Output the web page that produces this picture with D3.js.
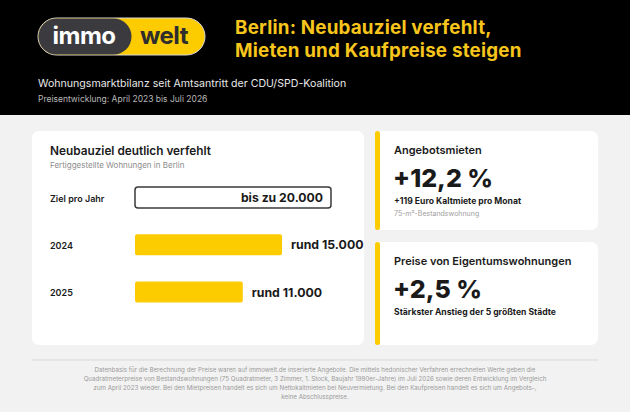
<!DOCTYPE html>
<html>
<head>
<meta charset="utf-8">
<script src="https://cdn.jsdelivr.net/npm/d3@7"></script>
<style>
  body { margin: 0; background: #f2f2f2; }
  svg { display: block; font-family: Inter, "Noto Sans", sans-serif; }
</style>
</head>
<body>
<div id="chart"></div>
<script>
// data
const titleLines = ["Berlin: Neubauziel verfehlt,", "Mieten und Kaufpreise steigen"];
const subTitle = "Wohnungsmarktbilanz seit Amtsantritt der CDU/SPD-Koalition";
const period = "Preisentwicklung: April 2023 bis Juli 2026";

const barLabels = ["Ziel pro Jahr", "2024", "2025"];
const barValues = [20000, 15000, 11000];
const barPrefix = ["bis zu ", "rund ", "rund "];

const cardTitles = ["Angebotsmieten", "Preise von Eigentumswohnungen"];
const cardValues = [12.2, 2.5];
const cardNotes = ["+119 Euro Kaltmiete pro Monat", "Stärkster Anstieg der 5 größten Städte"];
const cardSubNotes = ["75-m²-Bestandswohnung", ""];

const footLines = [
  "Datenbasis für die Berechnung der Preise waren auf immowelt.de inserierte Angebote. Die mittels hedonischer Verfahren errechneten Werte geben die",
  "Quadratmeterpreise von Bestandswohnungen (75 Quadratmeter, 3 Zimmer, 1. Stock, Baujahr 1990er-Jahre) im Juli 2026 sowie deren Entwicklung im Vergleich",
  "zum April 2023 wieder. Bei den Mietpreisen handelt es sich um Nettokaltmieten bei Neuvermietung. Bei den Kaufpreisen handelt es sich um Angebots-,",
  "keine Abschlusspreise."
];

const makeChart = () => {
  let w = 630;
  let h = 412;
  const yellow = "#fccb00";
  const dark = "#1a1a1a";

  const de = d3.formatLocale({decimal: ",", thousands: ".", grouping: [3], currency: ["", " €"]});
  const fmtInt = de.format(",.0f");
  const fmtPct = de.format("+.1f");

  const svg = d3.select('#chart')
    .append('svg')
    .attr('width', w)
    .attr('height', h)
    .style('background-color', '#f2f2f2');

  // header
  svg.append("rect").attr("x", 0).attr("y", 0).attr("width", w).attr("height", 115).attr("fill", "#000");

  // logo
  const logo = svg.append("g");
  logo.append("rect").attr("x", 38).attr("y", 18).attr("width", 167).attr("height", 37)
    .attr("rx", 18.5).attr("fill", yellow).attr("stroke", "#d8d8d8").attr("stroke-width", 1);
  logo.append("rect").attr("x", 38.5).attr("y", 18.5).attr("width", 93).attr("height", 36)
    .attr("rx", 18).attr("fill", "#3b3b3f");
  logo.append("text").attr("x", 84).attr("y", 44).attr("text-anchor", "middle")
    .style("font-size", "24px").style("font-weight", 700).attr("fill", "#fff")
    .style("letter-spacing", "-0.5px").text("immo");
  logo.append("text").attr("x", 164).attr("y", 44).attr("text-anchor", "middle")
    .style("font-size", "24px").style("font-weight", 700).attr("fill", "#2e2e2e")
    .style("letter-spacing", "-0.5px").text("welt");

  // title
  svg.selectAll(".title").data(titleLines).enter().append("text")
    .attr("class", "title")
    .attr("x", 235).attr("y", (d, i) => 34 + i * 23)
    .style("font-size", "18.8px").style("font-weight", 700)
    .style("letter-spacing", "0.2px").attr("fill", "#f7c51c")
    .text(d => d);

  svg.append("text").attr("x", 38).attr("y", 87)
    .style("font-size", "10.6px").attr("fill", "#e8e8e8").text(subTitle);
  svg.append("text").attr("x", 38).attr("y", 102)
    .style("font-size", "8.5px").attr("fill", "#b8b8b8").text(period);

  // left card
  svg.append("rect").attr("x", 32).attr("y", 131).attr("width", 332).attr("height", 214)
    .attr("rx", 7).attr("fill", "#fff");
  svg.append("text").attr("x", 50).attr("y", 155)
    .style("font-size", "11.8px").style("font-weight", 600).attr("fill", dark)
    .text("Neubauziel deutlich verfehlt");
  svg.append("text").attr("x", 50).attr("y", 168)
    .style("font-size", "8px").attr("fill", "#8c8c8c")
    .text("Fertiggestellte Wohnungen in Berlin");

  const xScale = d3.scaleLinear().domain([0, 20000]).range([135, 331]);
  const yScale = d3.scalePoint().domain(barLabels).range([197.5, 292]);
  const barH = 21;

  const rows = svg.selectAll(".row")
    .data(barLabels.map((l, i) => ({label: l, value: barValues[i], prefix: barPrefix[i], i: i})))
    .enter().append("g").attr("class", "row");

  rows.append("text")
    .attr("x", 50).attr("y", d => yScale(d.label) + 4)
    .style("font-size", "9px")
    .style("font-weight", 600).attr("fill", dark)
    .text(d => d.label);

  rows.append("rect")
    .attr("x", xScale(0))
    .attr("y", d => yScale(d.label) - barH / 2)
    .attr("width", d => xScale(d.value) - xScale(0))
    .attr("height", barH)
    .attr("rx", d => d.i === 0 ? 3 : 2)
    .attr("fill", d => d.i === 0 ? "#fff" : yellow)
    .attr("stroke", d => d.i === 0 ? "#3a3a3a" : "none")
    .attr("stroke-width", 1.5);

  rows.append("text")
    .attr("x", d => d.i === 0 ? xScale(d.value) - 8 : xScale(d.value) + 9)
    .attr("y", d => yScale(d.label) + 4.5)
    .attr("text-anchor", d => d.i === 0 ? "end" : "start")
    .style("font-size", d => d.i === 0 ? "12.2px" : "12.3px").style("font-weight", 700).attr("fill", dark)
    .text(d => d.prefix + fmtInt(d.value));

  // right cards
  const cardY = [131, 242];
  const cardH = [99, 103];
  const cards = svg.selectAll(".card")
    .data(cardTitles.map((t, i) => ({title: t, value: cardValues[i], note: cardNotes[i], sub: cardSubNotes[i], y: cardY[i], h: cardH[i]})))
    .enter().append("g").attr("class", "card")
    .attr("transform", d => `translate(375, ${d.y})`);

  cards.append("rect").attr("x", 0).attr("y", 0).attr("width", 223).attr("height", d => d.h)
    .attr("rx", 7).attr("fill", "#fff");
  cards.append("rect").attr("x", 0).attr("y", 0).attr("width", 5).attr("height", d => d.h)
    .attr("rx", 2.5).attr("fill", yellow);
  cards.append("text").attr("x", 19).attr("y", 23)
    .style("font-size", "11px").style("font-weight", 600).attr("fill", dark)
    .text(d => d.title);
  cards.append("text").attr("x", 18).attr("y", 56)
    .style("font-size", "25px").style("font-weight", 800).attr("fill", dark)
    .text(d => fmtPct(d.value) + " %");
  cards.append("text").attr("x", 19).attr("y", 73)
    .style("font-size", "8.6px").style("font-weight", 700).attr("fill", dark)
    .text(d => d.note);
  cards.append("text").attr("x", 19).attr("y", 85)
    .style("font-size", "7px").attr("fill", "#a0a0a0")
    .text(d => d.sub);

  // footnote
  svg.append("line").attr("x1", 32).attr("x2", 598).attr("y1", 360).attr("y2", 360)
    .attr("stroke", "#d9d9d9").attr("stroke-width", 1);
  svg.selectAll(".foot").data(footLines).enter().append("text")
    .attr("class", "foot")
    .attr("x", 315).attr("y", (d, i) => 372 + i * 9)
    .attr("text-anchor", "middle")
    .style("font-size", "6.2px").attr("fill", "#9a9a9a")
    .text(d => d);
};

makeChart();
</script>
</body>
</html>
